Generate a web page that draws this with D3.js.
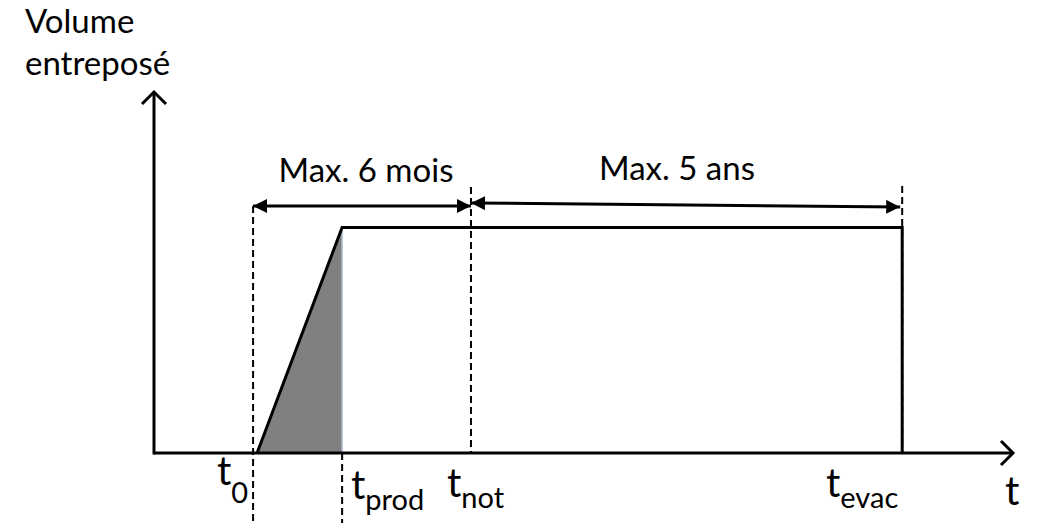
<!DOCTYPE html>
<html><head><meta charset="utf-8">
<script src="https://cdn.jsdelivr.net/npm/d3@7"></script>
<style>html,body{margin:0;padding:0;background:#fff;}svg{display:block;}text{font-family:Lato,"Open Sans",sans-serif;fill:#000;}</style>
</head><body>
<script>
// Data
const timeNames = ["t0", "tprod", "tnot", "tevac"];
const timeMain = ["t", "t", "t", "t"];
const timeSubs = ["0", "prod", "not", "evac"];
const timeValues = [1.2, 2.19, 3.69, 8.71];
const volumeTimes = [1.2, 2.19, 8.71, 8.71];
const volumeValues = [0, 1, 1, 0];
const fillTimes = [1.2, 2.19, 2.19];
const fillValues = [0, 1, 0];
const spanLabels = ["Max. 6 mois", "Max. 5 ans"];
const spanStarts = [1.2, 3.69];
const spanEnds = [3.69, 8.71];
const yTitle = ["Volume", "entreposé"];
const xTitle = "t";

const W = 1038, H = 523;
const svg = d3.select("body").append("svg").attr("width", W).attr("height", H);
const x = d3.scaleLinear().domain([0, 10]).range([154, 1013]);
const y = d3.scaleLinear().domain([0, 1.6]).range([453, 92]);

const defs = svg.append("defs");
defs.append("marker").attr("id", "ah").attr("viewBox", "0 0 10 10")
  .attr("refX", 10).attr("refY", 5).attr("markerWidth", 14).attr("markerHeight", 14)
  .attr("markerUnits", "userSpaceOnUse").attr("orient", "auto-start-reverse")
  .append("path").attr("d", "M0,0 L10,5 L0,10 Z").attr("fill", "#000");

// gray filled triangle
const line = d3.line().x(d => x(d[0])).y(d => y(d[1]));
svg.append("path").attr("d", line(fillTimes.map((t, i) => [t, fillValues[i]])) + "Z")
  .attr("fill", "#808080").attr("stroke", "none");
svg.append("line").attr("x1", x(2.19)).attr("x2", x(2.19)).attr("y1", y(1)).attr("y2", y(0))
  .attr("stroke", "#b4c4dc").attr("stroke-width", 1.5);

// dashed guides
const dashTop = [206, y(0), 187, 186];
const dashBot = [523, 523, y(0), y(0)];
timeValues.forEach((t, i) => {
  svg.append("line").attr("x1", x(t) - (i === 0 ? 4 : 0)).attr("x2", x(t) - (i === 0 ? 4 : 0))
    .attr("y1", dashTop[i]).attr("y2", dashBot[i])
    .attr("stroke", "#000").attr("stroke-width", 2).attr("stroke-dasharray", "7,4");
});

// volume curve
svg.append("path").attr("d", line(volumeTimes.map((t, i) => [t, volumeValues[i]])))
  .attr("fill", "none").attr("stroke", "#000").attr("stroke-width", 3).attr("stroke-linejoin", "miter");

// axes
const xAxis = d3.axisBottom(x).tickValues([]).tickSize(0);
svg.append("g").attr("transform", `translate(0,${y(0)})`).call(xAxis)
  .select(".domain").attr("stroke", "#000").attr("stroke-width", 3).attr("d", `M${x(0)},0H${x(10)}`);
const yAxis = d3.axisLeft(y).tickValues([]).tickSize(0);
svg.append("g").attr("transform", `translate(${x(0)},0)`).call(yAxis)
  .select(".domain").attr("stroke", "#000").attr("stroke-width", 3).attr("d", `M0,${y(0)+1.5}V${y(1.6)}`);
// axis arrow heads (open chevrons)
svg.append("path").attr("d", `M${x(10)-12},${y(0)-12} L${x(10)},${y(0)} L${x(10)-12},${y(0)+12}`)
  .attr("fill", "none").attr("stroke", "#000").attr("stroke-width", 3);
svg.append("path").attr("d", `M${x(0)-12},${y(1.6)+12} L${x(0)},${y(1.6)} L${x(0)+12},${y(1.6)+12}`)
  .attr("fill", "none").attr("stroke", "#000").attr("stroke-width", 3);

// span arrows
const spanY1 = [206, 203], spanY2 = [206, 207];
spanLabels.forEach((lab, i) => {
  svg.append("line").attr("x1", x(spanStarts[i]) - (i === 0 ? 4 : 0)).attr("y1", spanY1[i])
    .attr("x2", x(spanEnds[i]) - (i === 1 ? 2 : 0)).attr("y2", spanY2[i])
    .attr("stroke", "#000").attr("stroke-width", 3)
    .attr("marker-start", "url(#ah)").attr("marker-end", "url(#ah)");
});
const spanLabelX = [366, 677], spanLabelY = [182, 180];
spanLabels.forEach((lab, i) => {
  svg.append("text").attr("x", spanLabelX[i]).attr("y", spanLabelY[i]).attr("text-anchor", "middle")
    .attr("font-size", 33).text(lab);
});

// time labels
const labX = [217, 351, 447, 826], labY = [485, 499, 497, 497], subDy = [18, 11, 11, 11];
timeValues.forEach((t, i) => {
  const tx = svg.append("text").attr("x", labX[i]).attr("y", labY[i]).attr("font-size", 40);
  tx.append("tspan").text(timeMain[i]);
  tx.append("tspan").attr("font-size", 29).attr("dy", subDy[i]).text(timeSubs[i]);
});
svg.append("text").attr("x", 1005).attr("y", 505).attr("font-size", 40).text(xTitle);

// y title
yTitle.forEach((s, i) => {
  svg.append("text").attr("x", 25).attr("y", 33 + i * 42).attr("font-size", 33).text(s);
});
</script>
</body></html>
